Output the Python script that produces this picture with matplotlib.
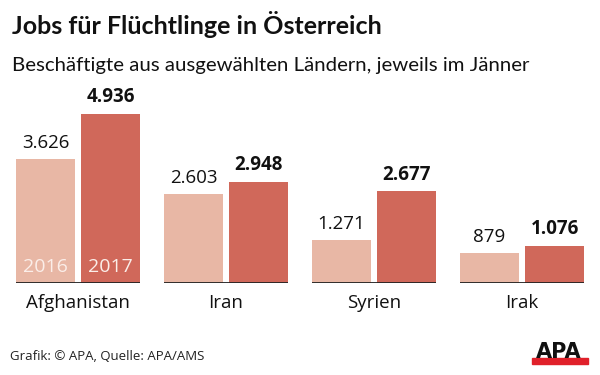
import matplotlib.pyplot as plt
import numpy as np

# data
countries = ['Afghanistan', 'Iran', 'Syrien', 'Irak']
jobs_2016 = [3626, 2603, 1271, 879]
jobs_2017 = [4936, 2948, 2677, 1076]
years = ['2016', '2017']

LIGHT = '#e8b7a5'
DARK = '#d0685a'

def fmt(v):
    return '{:,}'.format(v).replace(',', '.')

plt.rcParams['font.family'] = ['Open Sans', 'DejaVu Sans']

fig = plt.figure(figsize=(6, 3.75), dpi=100)
ax = fig.add_axes([4 / 600, 92 / 375, 592 / 600, 188 / 375])

x = np.arange(len(countries))
w = 0.4
off = 0.22
ax.bar(x - off, jobs_2016, w, color=LIGHT)
ax.bar(x + off, jobs_2017, w, color=DARK)

for i in range(len(countries)):
    ax.plot([x[i] - off - w / 2, x[i] + off + w / 2], [0, 0], color='#222222', lw=1.3,
            solid_capstyle='butt')
    ax.text(x[i] - off, jobs_2016[i] + 200, fmt(jobs_2016[i]), ha='center', va='bottom',
            fontsize=13.5, color='#111111')
    ax.text(x[i] + off, jobs_2017[i] + 200, fmt(jobs_2017[i]), ha='center', va='bottom',
            fontsize=13.5, fontweight='bold', color='#111111')
    ax.text(x[i], -330, countries[i], ha='center', va='top', fontsize=13.5, color='#111111')

# year labels inside first group
ax.text(x[0] - off, 200, years[0], ha='center', va='bottom', fontsize=14, color='#fbeee9')
ax.text(x[0] + off, 200, years[1], ha='center', va='bottom', fontsize=14, color='#fbeee9')

ax.set_xlim(-0.5, 3.5)
ax.set_ylim(0, 5500)
ax.axis('off')

fig.text(12 / 600, 1 - 34 / 375, 'Jobs für Flüchtlinge in Österreich', fontsize=18,
         fontweight='bold', va='baseline', ha='left', color='#111111', family='Lato')
fig.text(12 / 600, 1 - 71 / 375, 'Beschäftigte aus ausgewählten Ländern, jeweils im Jänner',
         fontsize=14.7, va='baseline', ha='left', color='#111111', family='Lato')
fig.text(10 / 600, 1 - 357 / 375, 'Grafik: © APA, Quelle: APA/AMS', fontsize=9.5,
         va='center', ha='left', color='#222222')

# APA logo
fig.text(559 / 600, 1 - 358 / 375, 'APA', fontsize=15, fontweight='bold', va='baseline',
         ha='center', color='#111111', family='DejaVu Sans')
fig.patches.append(plt.Rectangle((532 / 600, 1 - 364 / 375), 56 / 600, 6 / 375,
                                 transform=fig.transFigure, color='#e0202a'))

fig.savefig('out.png', dpi=100)
